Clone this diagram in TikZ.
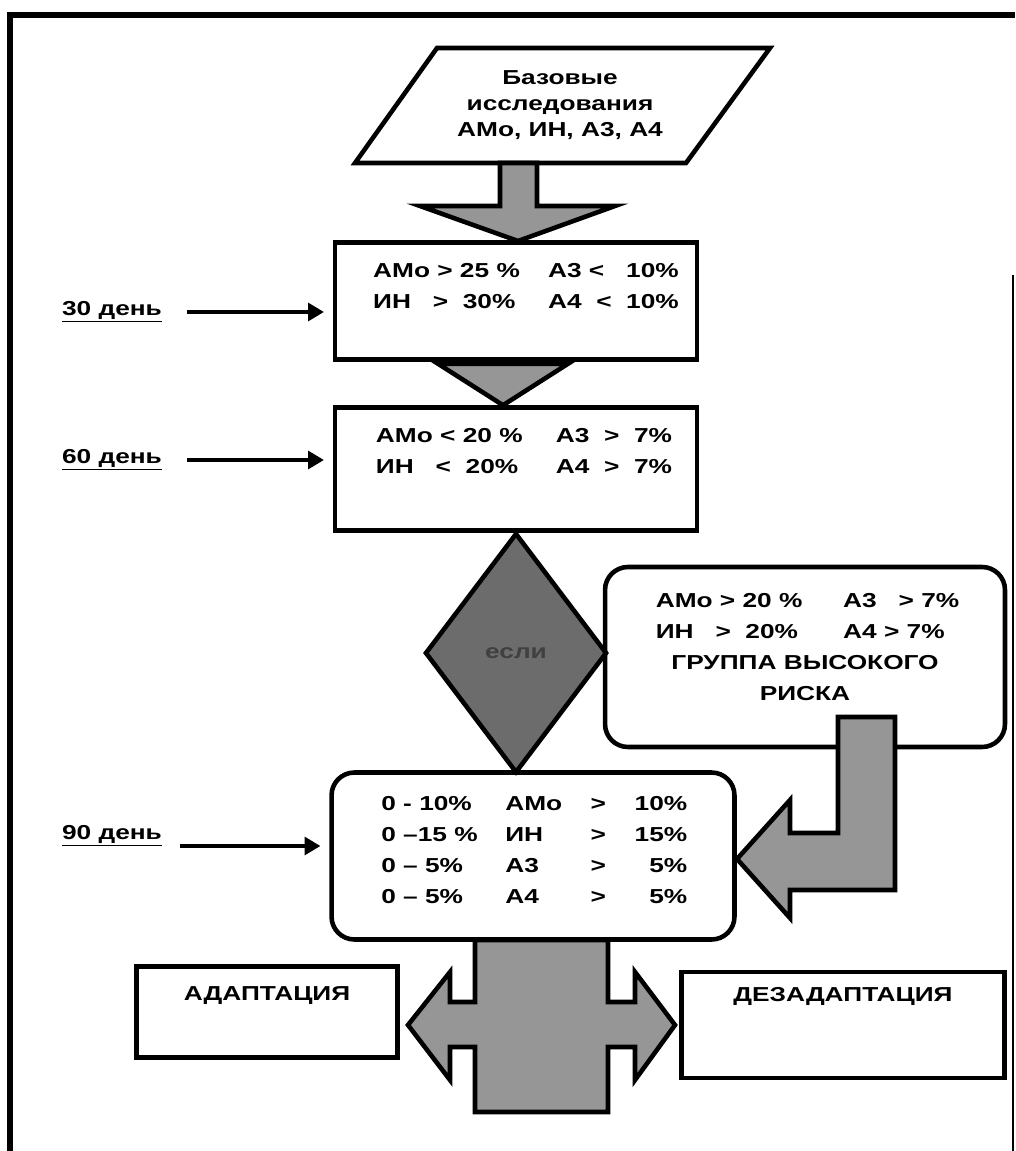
\documentclass[tikz,border=0pt]{standalone}
\usepackage{fontspec}
\setmainfont{Liberation Sans}[FakeStretch=1.3]
\usetikzlibrary{arrows.meta,positioning,calc,shapes.geometric}
\definecolor{speckle}{RGB}{150,150,150}
\definecolor{speckdark}{RGB}{108,108,108}
\newcommand{\cellrow}[4]{\makebox[2.48cm][l]{#1}\makebox[1.5cm][l]{#2}\makebox[0.72cm]{#3}\makebox[1.42cm][r]{#4}}

\begin{document}
\begin{tikzpicture}[x=0.02cm,y=-0.02cm,
  blk/.style={draw,line width=2.6pt,inner sep=0pt},
  txt/.style={inner sep=0pt,font=\fontsize{11.5}{17.5}\selectfont\bfseries,align=left},
  dayarrow/.style={line width=2.2pt,shorten >=5pt,-{Triangle[length=9pt,width=10pt]}},
  bigarrow/.style={draw,line width=2.6pt,fill=speckle,line join=miter}]
\useasboundingbox (0,0) rectangle (1015,1151);
% frame
\draw[line width=3pt] (10,1151) -- (10,15) -- (1015,15);
\draw[line width=1pt] (1013,275) -- (1013,1151);

\draw[line width=2.6pt,line join=miter] (355,163) -- (437,48) -- (770,48) -- (686,163) -- cycle;
\node[txt,align=center,font=\fontsize{11.5}{14.7}\selectfont\bfseries] (base) at (560,105) {Базовые\\исследования\\АМо, ИН, А3, А4};

\node[blk,minimum width=7.24cm,minimum height=2.34cm] (b30) at (516,301) {};
\node[txt] (b30txt) at (526,286) {\makebox[3.5cm][l]{АМо > 25 \%}А3 <\ \ \ 10\%\\\makebox[3.5cm][l]{ИН\ \ \ >\ \ 30\%}А4\ \ <\ \ 10\%};
\node[blk,minimum width=7.24cm,minimum height=2.46cm] (b60) at (516,469) {};
\node[txt] (b60txt) at (524,451) {\makebox[3.6cm][l]{АМо < 20 \%}А3\ \ >\ \ 7\%\\\makebox[3.6cm][l]{ИН\ \ \ <\ \ 20\%}А4\ \ >\ \ 7\%};

\node[blk,diamond,fill=speckdark,minimum width=3.64cm,minimum height=4.8cm,font=\fontsize{11.5}{14}\selectfont\bfseries,text=black!75] (cond) at (516,653) {если};

\node[blk,rounded corners=13pt,minimum width=8cm,minimum height=3.6cm,font=\fontsize{11.5}{17.5}\selectfont\bfseries,align=center] (risk) at (805,657) {\makebox[3.75cm][l]{АМо > 20 \%}\makebox[2.22cm][l]{А3\ \ \ > 7\%}\\\makebox[3.75cm][l]{ИН\ \ \ >\ \ 20\%}\makebox[2.22cm][l]{А4 > 7\%}\\ГРУППА ВЫСОКОГО\\РИСКА\\[-6pt]};

\node[blk,rounded corners=13pt,minimum width=8.06cm,minimum height=3.34cm] (b90) at (533,856) {};
\node[txt,anchor=west] (b90txt) at (381,850) {\cellrow{0 - 10\%}{АМо}{>}{10\%}\\\cellrow{0 –15 \%}{ИН}{>}{15\%}\\\cellrow{0 – 5\%}{А3}{>}{5\%}\\\cellrow{0 – 5\%}{А4}{>}{5\%}};

\node[blk,minimum width=5.22cm,minimum height=1.82cm] (adapt) at (267,1012) {};
\node[txt] (adapttxt) at (267,996) {АДАПТАЦИЯ};
\node[blk,minimum width=6.46cm,minimum height=2.12cm] (dezadapt) at (843,1025) {};
\node[txt] (dezadapttxt) at (843,996) {ДЕЗАДАПТАЦИЯ};

% block arrows
\draw[bigarrow] (500,163) -- (537,163) -- (537,206) -- (615,206) -- (518,241) -- (420,206) -- (500,206) -- cycle;
\draw[bigarrow] ($(b30.south)+(-78,2)$) -- ++(130,0) -- ($(b60.north)+(-13,0)$) -- cycle;
\draw[bigarrow] (838,717) -- (895,717) -- (895,890) -- (790,890) -- (790,918) -- (737,859) -- (790,800) -- (790,833) -- (838,833) -- cycle;
\draw[bigarrow] (475,940) -- (608,940) -- (608,1002) -- (635,1002) -- (635,972) -- (675,1025) -- (635,1080) -- (635,1047) -- (608,1047) -- (608,1112) -- (475,1112) -- (475,1047) -- (450,1047) -- (450,1080) -- (408,1025) -- (450,972) -- (450,1002) -- (475,1002) -- cycle;

% days
\node[txt] (d30) at (112,312) {\underline{30 день}};
\node[txt] (d60) at (112,460) {\underline{60 день}};
\node[txt] (d90) at (112,836) {\underline{90 день}};
\draw[dayarrow] ([xshift=0.5cm]d30.east) -- (d30.east -| b30.west);
\draw[dayarrow] ([xshift=0.5cm]d60.east) -- (d60.east -| b60.west);
\draw[dayarrow] ($(d90.east)+(18,10)$) -- ($(d90.east -| b90.west)+(0,10)$);
\end{tikzpicture}
\end{document}
